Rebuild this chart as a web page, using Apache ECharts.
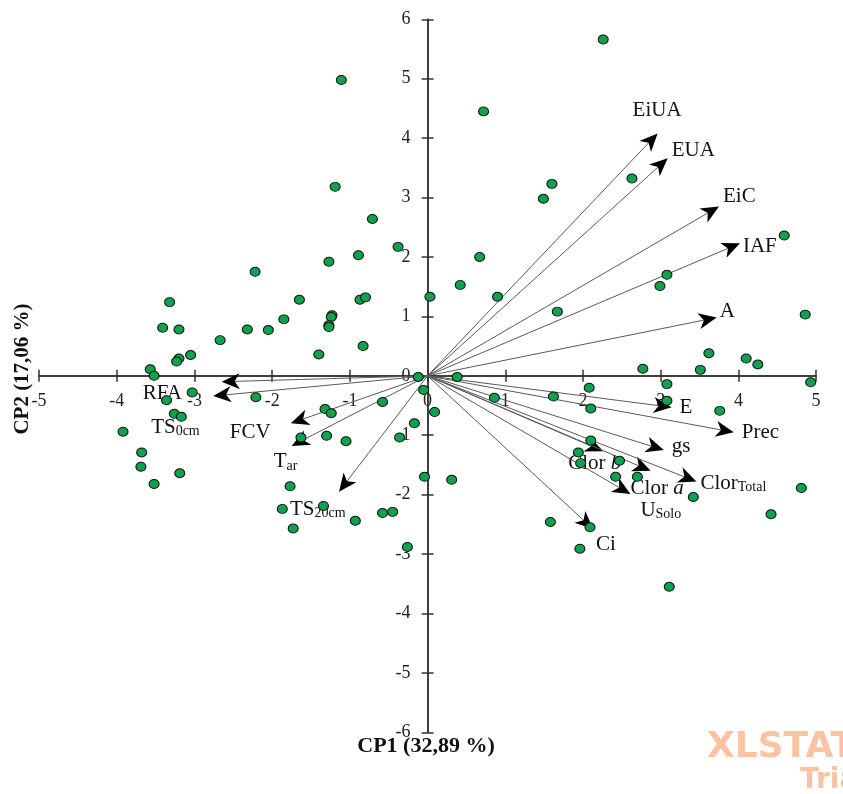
<!DOCTYPE html>
<html>
<head>
<meta charset="utf-8">
<script src="https://cdn.jsdelivr.net/npm/echarts@6/dist/echarts.min.js"></script>
<style>
  html, body { margin: 0; padding: 0; background: #ffffff; }
  #chart { width: 843px; height: 794px; }
</style>
</head>
<body>
<div id="chart"></div>
<script>
// Observation scores on the first two principal components
const obsCP1 = [
  -1.11, -1.19, -0.71, -0.38, -0.89, -1.27, -2.22, -3.32, -1.65, -0.87,
  -0.80, -1.23, -1.24, -1.85, -1.27, -1.27, -3.41, -3.20, -2.32, -2.05,
  -2.67, -0.83, -1.40, -3.05, -3.20, -3.23, -3.57, -3.52, -0.12, 0.03,
  2.26, 0.72, 2.63, 1.60, 1.49, 4.59, 0.67, 3.08, 2.99, 0.42,
  0.90, 1.67, 4.86, 3.62, 4.10, 4.25, 2.77, 3.51, 0.38, 4.93,
  3.08, 2.08, -0.05, -0.58, -0.17, -1.32, -1.24, -2.21, -3.03, -3.36,
  -3.26, -3.17, -3.92, -1.63, -1.30, -1.05, -0.36, -3.68, -3.69, -3.19,
  -3.52, -0.04, -1.77, -1.87, -1.34, -1.73, -0.93, -0.58, -0.45, -0.26,
  0.09, 0.86, 1.62, 2.10, 3.08, 3.76, 2.10, 1.94, 1.97, 2.47,
  2.42, 2.70, 3.42, 4.81, 4.42, 1.58, 2.09, 1.96, 3.11, 0.31
];
const obsCP2 = [
  4.98, 3.18, 2.64, 2.17, 2.03, 1.92, 1.75, 1.24, 1.28, 1.28,
  1.32, 1.02, 0.99, 0.95, 0.85, 0.82, 0.81, 0.78, 0.78, 0.77,
  0.60, 0.50, 0.36, 0.35, 0.29, 0.24, 0.11, 0.00, -0.02, 1.33,
  5.66, 4.45, 3.32, 3.23, 2.98, 2.36, 2.00, 1.70, 1.51, 1.53,
  1.33, 1.08, 1.03, 0.38, 0.29, 0.19, 0.12, 0.10, -0.02, -0.11,
  -0.14, -0.20, -0.24, -0.44, -0.80, -0.56, -0.63, -0.36, -0.28, -0.41,
  -0.64, -0.69, -0.94, -1.04, -1.01, -1.10, -1.04, -1.29, -1.53, -1.64,
  -1.82, -1.70, -1.86, -2.24, -2.19, -2.57, -2.44, -2.31, -2.29, -2.88,
  -0.61, -0.37, -0.35, -0.55, -0.42, -0.59, -1.09, -1.29, -1.47, -1.43,
  -1.70, -1.70, -2.04, -1.89, -2.33, -2.46, -2.55, -2.91, -3.55, -1.75
];

// Variables (arrow tips) on CP1 / CP2
const variables = [
  'EiUA', 'EUA', 'EiC', 'IAF', 'A', 'E', 'Prec', 'gs', 'Clor b',
  'Clor a', 'Clor Total', 'U Solo', 'Ci', 'RFA', 'TS 0cm', 'FCV', 'T ar', 'TS 20cm'
];
const varCP1 = [
  2.96, 3.09, 3.75, 4.02, 3.72, 3.14, 3.94, 3.04, 2.26,
  2.87, 3.46, 2.61, 2.13, -2.65, -2.76, -1.76, -1.75, -1.14
];
const varCP2 = [
  4.08, 3.66, 2.85, 2.23, 0.98, -0.53, -0.95, -1.25, -1.27,
  -1.60, -1.78, -1.99, -2.58, -0.10, -0.34, -0.80, -1.18, -1.95
];

// Axis ranges and titles
const cp1Range = [-5, 5];
const cp2Range = [-6, 6];
const axisTitles = ['CP1 (32,89 %)', 'CP2 (17,06 %)'];

// Rich-text markup for variable names (subscripts, italics)
const labelMarkup = {
  'Clor b': 'Clor {it|b}',
  'Clor a': 'Clor {it|a}',
  'Clor Total': 'Clor{sub|Total}',
  'U Solo': 'U{sub|Solo}',
  'TS 0cm': 'TS{sub|0cm}',
  'T ar': 'T{sub|ar}',
  'TS 20cm': 'TS{sub|20cm}'
};

// Pixel offset of each label (left edge, vertical middle) from its arrow tip
const labelOffset = {
  'EiUA': [-25, -23], 'EUA': [4, -8], 'EiC': [4, -10], 'IAF': [3, 3],
  'A': [3, -6], 'E': [8, 0], 'Prec': [8, 0], 'gs': [8, -4],
  'Clor b': [-35, 12], 'Clor a': [-20, 18], 'Clor Total': [4, 2],
  'U Solo': [10, 16], 'Ci': [3, 15], 'RFA': [-79, 12], 'TS 0cm': [-62, 31],
  'FCV': [-61, 9], 'T ar': [-18, 16], 'TS 20cm': [-49, 18]
};

const SERIF = '"Liberation Serif", "Times New Roman", serif';
const richStyles = {
  it:  { fontFamily: SERIF, fontSize: 21, fontStyle: 'italic', fill: '#111' },
  sub: { fontFamily: SERIF, fontSize: 14, verticalAlign: 'bottom', lineHeight: 7, fill: '#111' }
};

function renderVector(params, api) {
  const o = api.coord([0, 0]);
  const t = api.coord([api.value(0), api.value(1)]);
  const name = variables[params.dataIndex];
  const dx = t[0] - o[0], dy = t[1] - o[1];
  const len = Math.hypot(dx, dy);
  const ux = dx / len, uy = dy / len;
  const nx = -uy, ny = ux;
  const headLen = 18, headHalf = 8, notch = 5;
  const bx = t[0] - ux * headLen, by = t[1] - uy * headLen;
  const mx = t[0] - ux * (headLen - notch), my = t[1] - uy * (headLen - notch);
  const off = labelOffset[name] || [4, 0];
  return {
    type: 'group',
    children: [
      {
        type: 'line',
        shape: { x1: o[0], y1: o[1], x2: mx, y2: my },
        style: { stroke: '#5a5a5a', lineWidth: 1 }
      },
      {
        type: 'polygon',
        shape: { points: [
          [t[0], t[1]],
          [bx + nx * headHalf, by + ny * headHalf],
          [mx, my],
          [bx - nx * headHalf, by - ny * headHalf]
        ] },
        style: { fill: '#000000' }
      },
      {
        type: 'text',
        x: t[0] + off[0],
        y: t[1] + off[1],
        style: {
          text: labelMarkup[name] || name,
          fontFamily: SERIF,
          fontSize: 21,
          lineHeight: 22,
          fill: '#111',
          align: 'left',
          verticalAlign: 'middle',
          rich: richStyles
        }
      }
    ]
  };
}

// Plot area
const grid = { left: 39.1, right: 26.9, top: 19.3, bottom: 61.7 };
const plotW = 843 - grid.left - grid.right;
const plotH = 794 - grid.top - grid.bottom;
// Shift each axis from the plot edge onto the origin (axes cross at 0,0)
const xShiftFromBottom = plotH * (0 - cp2Range[0]) / (cp2Range[1] - cp2Range[0]);
const xShiftFromTop = plotH * (cp2Range[1] - 0) / (cp2Range[1] - cp2Range[0]);
const yShiftFromLeft = plotW * (0 - cp1Range[0]) / (cp1Range[1] - cp1Range[0]);
const yShiftFromRight = plotW * (cp1Range[1] - 0) / (cp1Range[1] - cp1Range[0]);

const axisLineStyle = { color: '#333333', width: 1.5 };
const labelFont = { fontFamily: SERIF, fontSize: 18, color: '#222222' };

const chart = echarts.init(document.getElementById('chart'), null, { renderer: 'canvas' });
chart.setOption({
  animation: false,
  backgroundColor: '#ffffff',
  grid: Object.assign({ containLabel: false, outerBoundsMode: 'none' }, grid),
  xAxis: [
    {
      type: 'value', min: cp1Range[0], max: cp1Range[1], interval: 1, position: 'bottom',
      offset: -xShiftFromBottom,
      axisLine: { onZero: false, lineStyle: axisLineStyle },
      axisTick: { show: true, length: 6, lineStyle: axisLineStyle },
      axisLabel: Object.assign({ margin: 16 }, labelFont),
      splitLine: { show: false }
    },
    {
      type: 'value', min: cp1Range[0], max: cp1Range[1], interval: 1, position: 'top',
      offset: -xShiftFromTop,
      axisLine: { onZero: false, lineStyle: axisLineStyle },
      axisTick: { show: true, length: 6, lineStyle: axisLineStyle },
      axisLabel: { show: false },
      splitLine: { show: false }
    }
  ],
  yAxis: [
    {
      type: 'value', min: cp2Range[0], max: cp2Range[1], interval: 1, position: 'left',
      offset: -yShiftFromLeft,
      axisLine: { onZero: false, lineStyle: axisLineStyle },
      axisTick: { show: true, length: 6, lineStyle: axisLineStyle },
      axisLabel: Object.assign({ margin: 17 }, labelFont),
      splitLine: { show: false }
    },
    {
      type: 'value', min: cp2Range[0], max: cp2Range[1], interval: 1, position: 'right',
      offset: -yShiftFromRight,
      axisLine: { onZero: false, lineStyle: axisLineStyle },
      axisTick: { show: true, length: 6, lineStyle: axisLineStyle },
      axisLabel: { show: false },
      splitLine: { show: false }
    }
  ],
  series: [
    {
      type: 'custom',
      name: 'Variables',
      xAxisIndex: 0, yAxisIndex: 0,
      renderItem: renderVector,
      data: varCP1.map((v, i) => [v, varCP2[i]]),
      z: 2,
      silent: true
    },
    {
      type: 'scatter',
      name: 'Observations',
      xAxisIndex: 0, yAxisIndex: 0,
      data: obsCP1.map((v, i) => [v, obsCP2[i]]),
      symbol: 'circle',
      symbolSize: [10, 9],
      itemStyle: { color: '#0ea24c', borderColor: '#111111', borderWidth: 1, opacity: 1 },
      z: 3,
      silent: true
    }
  ],
  graphic: [
    {
      type: 'text', x: 426, y: 746,
      style: { text: axisTitles[0], fontFamily: SERIF, fontSize: 22, fontWeight: 'bold', fill: '#111', align: 'center', verticalAlign: 'middle' }
    },
    {
      type: 'text', x: 23, y: 369, rotation: Math.PI / 2,
      style: { text: axisTitles[1], fontFamily: SERIF, fontSize: 21, fontWeight: 'bold', fill: '#111', align: 'center', verticalAlign: 'middle' }
    },
    {
      type: 'text', x: 707, y: 730, z: 10,
      style: { text: 'XLSTAT', fontFamily: '"DejaVu Sans"', fontSize: 36, fontWeight: 'bold', fill: '#fbc3a1', align: 'left', verticalAlign: 'top' }
    },
    {
      type: 'text', x: 800, y: 767, z: 10,
      style: { text: 'Trial', fontFamily: '"DejaVu Sans"', fontSize: 28, fontWeight: 'bold', fill: '#fbc3a1', align: 'left', verticalAlign: 'top' }
    }
  ]
});
</script>
</body>
</html>
